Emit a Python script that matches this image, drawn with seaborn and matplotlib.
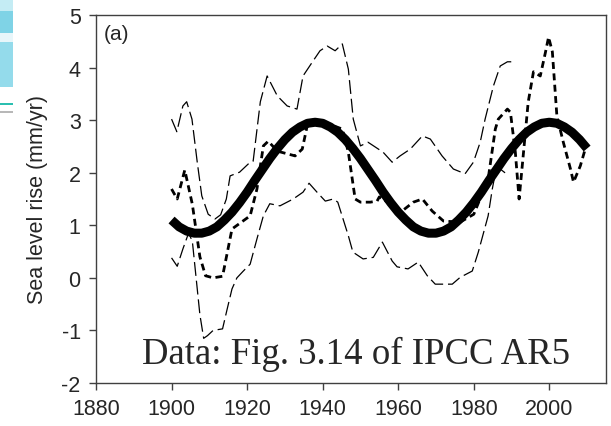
import numpy as np
import pandas as pd
import matplotlib
matplotlib.use("Agg")
import matplotlib.pyplot as plt
import matplotlib.patches as mpatches
import seaborn as sns

# ---- data ----
fit_years = list(range(1900, 2011, 2))
fit_values = [1.10, 0.97, 0.89, 0.85, 0.85, 0.89, 0.97, 1.10, 1.25, 1.43,
              1.63, 1.85, 2.06, 2.27, 2.46, 2.63, 2.77, 2.87, 2.94, 2.96,
              2.94, 2.87, 2.77, 2.63, 2.46, 2.27, 2.06, 1.85, 1.63, 1.43,
              1.25, 1.10, 0.97, 0.89, 0.85, 0.85, 0.89, 0.97, 1.10, 1.25,
              1.43, 1.63, 1.85, 2.06, 2.27, 2.46, 2.63, 2.77, 2.87, 2.94,
              2.96, 2.94, 2.87, 2.77, 2.63, 2.46]

mid_years = [1900, 1901.5, 1903.5, 1905.5, 1907.5, 1909, 1911, 1913.5, 1916,
             1920.8, 1922.6, 1924.3, 1925.6, 1928, 1932.7, 1934.6, 1935.9,
             1937.5, 1940, 1943, 1945.2, 1946.8, 1948.6, 1950, 1952.6, 1954.4,
             1955, 1958, 1961, 1964, 1966.4, 1969, 1972, 1976.4, 1980, 1983.8,
             1985.7, 1986.5, 1988.9, 1989.7, 1991, 1992, 1993, 1994.4, 1995.8,
             1997.6, 1999, 1999.8, 2000.8, 2002, 2003.7, 2005.6, 2006.4,
             2008.2, 2009.5]
mid_values = [1.69, 1.50, 2.05, 1.40, 0.40, 0.04, 0.00, 0.03, 0.93,
              1.18, 1.69, 2.51, 2.60, 2.41, 2.32, 2.45, 2.89,
              2.97, 2.96, 2.89, 2.83, 2.39, 1.50, 1.44, 1.44, 1.46,
              1.54, 1.40, 1.27, 1.44, 1.50, 1.27, 1.08, 1.06, 1.21, 1.88,
              2.83, 3.02, 3.21, 3.15, 2.39, 1.50, 2.26, 3.34, 3.92,
              3.84, 4.30, 4.58, 4.30, 3.08, 2.58, 2.07, 1.82,
              2.13, 2.45]

up_years = [1900, 1901.4, 1903, 1904, 1905.4, 1906.8, 1908, 1909.7, 1911.5,
            1913, 1914.5, 1915.5, 1918, 1920.8, 1921.6, 1923.5, 1925.3, 1928,
            1930.6, 1933.2, 1934.8, 1937.5, 1939.3, 1941.2, 1943.3, 1945.2,
            1946.8, 1948.1, 1950, 1952, 1953.9, 1956, 1958.4, 1960.5, 1963.2,
            1966.4, 1968.5, 1971.6, 1974.6, 1977.7, 1979.9, 1981.7, 1983,
            1985.2, 1987, 1988.9, 1990.2]
up_values = [3.02, 2.78, 3.27, 3.35, 3.02, 2.20, 1.56, 1.21, 1.12,
             1.20, 1.50, 1.94, 2.01, 2.20, 2.22, 3.35, 3.84, 3.46,
             3.27, 3.21, 3.84, 4.13, 4.32, 4.41, 4.32, 4.45,
             3.97, 3.02, 2.51, 2.58, 2.49, 2.39, 2.20, 2.32, 2.45,
             2.70, 2.64, 2.32, 2.07, 1.98, 2.20, 2.58, 3.02,
             3.65, 4.03, 4.11, 4.11]

low_years = [1900, 1901.5, 1903, 1904.5, 1905.5, 1906.5, 1907.5, 1908.5,
             1909.5, 1911, 1913.5, 1914.7, 1916, 1917.3, 1919, 1920.8, 1922.6,
             1924.3, 1926, 1928.7, 1932.2, 1934.8, 1936.4, 1938.5, 1940.7,
             1942.8, 1944, 1945.4, 1946.8, 1948, 1950.7, 1953.4, 1955.8,
             1958.4, 1959.7, 1962.6, 1965.3, 1967.7, 1969.8, 1974.3, 1976.4,
             1979.6, 1981.2, 1983.8, 1984.9, 1986, 1987, 1988.6]
low_values = [0.38, 0.22, 0.55, 0.85, 0.70, 0.00, -0.70, -1.15,
              -1.10, -1.00, -0.97, -0.60, -0.21, 0.00, 0.13, 0.26, 0.74,
              1.18, 1.41, 1.37, 1.50, 1.63, 1.80, 1.63, 1.46,
              1.50, 1.44, 1.12, 0.80, 0.49, 0.36, 0.39, 0.68,
              0.32, 0.21, 0.17, 0.30, 0.04, -0.12, -0.12, 0.01,
              0.13, 0.49, 1.18, 1.69, 2.10, 2.07, 1.98]

x_ticks = [1880, 1900, 1920, 1940, 1960, 1980, 2000]
y_ticks = [-2, -1, 0, 1, 2, 3, 4, 5]
y_tick_labels = ["-2", "-1", "0", "1", "2", "3", "4", "5"]

# ---- figure ----
sns.set_theme(style="ticks")
plt.rcParams["font.family"] = ["Liberation Sans", "DejaVu Sans"]
plt.rcParams["lines.scale_dashes"] = False
plt.rcParams["axes.unicode_minus"] = False

W, H = 611, 427
fig = plt.figure(figsize=(W / 100, H / 100), dpi=100)
fig.patch.set_facecolor("white")

# decorative slide background strip on the left
def px_rect(x0, y0, x1, y1, color):
    fig.patches.append(mpatches.Rectangle((x0 / W, 1 - y1 / H), (x1 - x0) / W,
                                          (y1 - y0) / H, transform=fig.transFigure,
                                          color=color, zorder=0, lw=0))
px_rect(0, 0, 13, 12, "#c4ecf4")
px_rect(0, 12, 13, 34, "#7fd3e6")
px_rect(0, 34, 13, 43, "#e8f6fa")
px_rect(0, 43, 13, 88, "#94dbeb")
px_rect(0, 104, 13, 106, "#2bbfb0")
px_rect(0, 112, 13, 114, "#b8b8b8")

ax = fig.add_axes([96 / W, 1 - 384 / H, (606 - 96) / W, (384 - 16) / H])
ax.set_facecolor("white")

df_fit = pd.DataFrame({"year": fit_years, "v": fit_values})
df_mid = pd.DataFrame({"year": mid_years, "v": mid_values})
df_up = pd.DataFrame({"year": up_years, "v": up_values})
df_low = pd.DataFrame({"year": low_years, "v": low_values})

sns.lineplot(data=df_up, x="year", y="v", ax=ax, color="black", lw=0.9,
             linestyle=(0, (10, 3.5)), zorder=2)
sns.lineplot(data=df_low, x="year", y="v", ax=ax, color="black", lw=0.9,
             linestyle=(0, (10, 3.5)), zorder=2)
sns.lineplot(data=df_mid, x="year", y="v", ax=ax, color="black", lw=2.0,
             linestyle=(0, (5, 3.2)), zorder=3)
sns.lineplot(data=df_fit, x="year", y="v", ax=ax, color="black", lw=6.5,
             solid_capstyle="butt", zorder=4)

ax.set_xlim(1880, 2015)
ax.set_ylim(-2, 5)
ax.set_xticks(x_ticks)
ax.set_yticks(y_ticks)
ax.set_yticklabels(y_tick_labels)
ax.set_xlabel("")
ax.set_ylabel("Sea level rise (mm/yr)", fontsize=15.5, labelpad=10)
ax.tick_params(axis="both", labelsize=15.5, direction="out", length=5,
               width=1, color="#404040", pad=6)
for s in ax.spines.values():
    s.set_color("#404040")
    s.set_linewidth(1.0)
    s.set_visible(True)

ax.text(0.015, 0.975, "(a)", transform=ax.transAxes, fontsize=15,
        ha="left", va="top")
ax.text(0.09, 0.055, "Data: Fig. 3.14 of IPCC AR5", transform=ax.transAxes,
        fontsize=26.5, family=["Liberation Serif", "DejaVu Serif"],
        ha="left", va="baseline")

fig.savefig("out.png", dpi=100)
